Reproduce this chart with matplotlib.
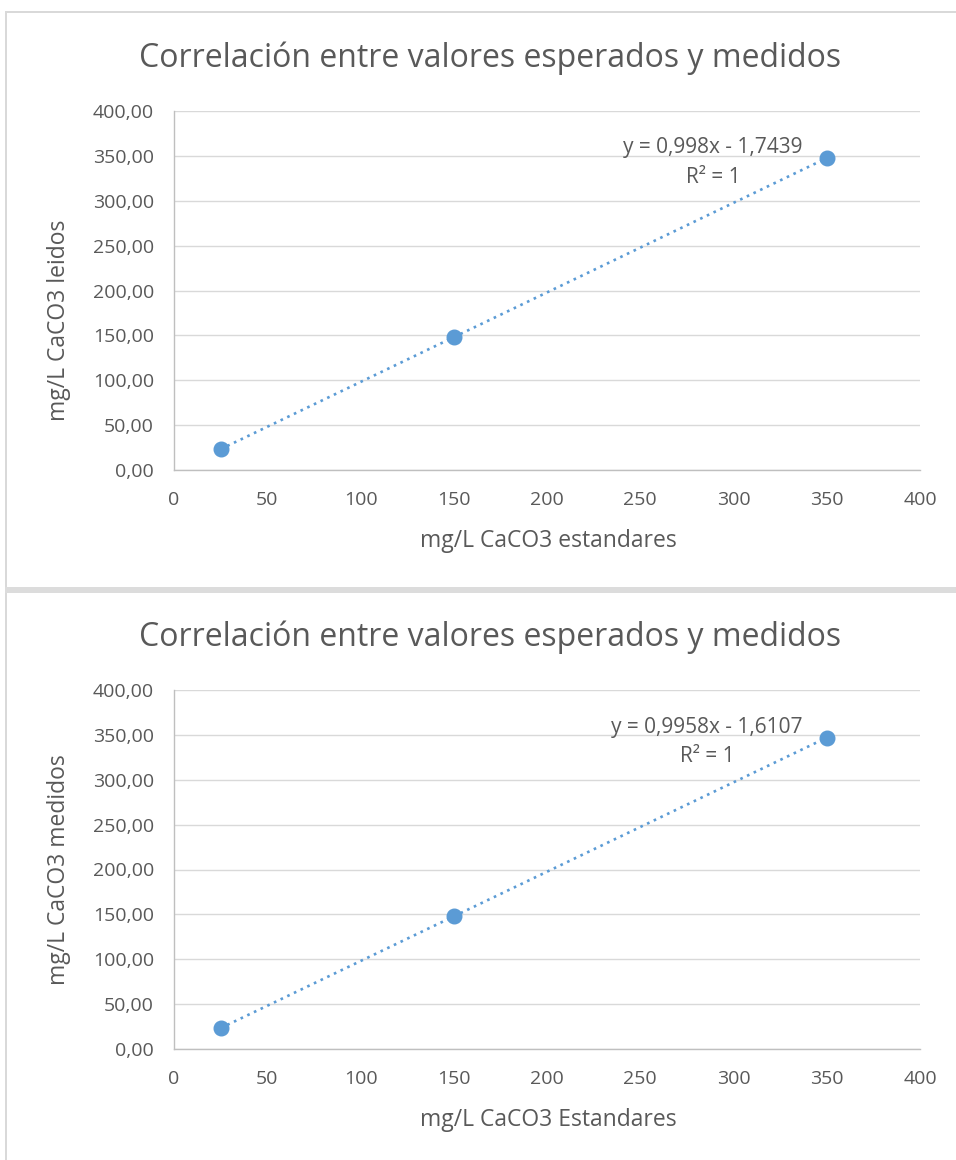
import numpy as np
import matplotlib.pyplot as plt
from matplotlib.patches import Rectangle
from matplotlib.ticker import FuncFormatter, MultipleLocator

plt.rcParams['font.family'] = ['Open Sans', 'DejaVu Sans']

# standard concentrations (mg/L CaCO3)
estandares = [25, 150, 350]
# values read by the instrument, two runs
leidos = [23.2, 148.0, 347.5]
medidos = [23.3, 147.8, 346.9]

# trendline coefficients (slope, intercept) as reported
coef_leidos = (0.998, -1.7439)
coef_medidos = (0.9958, -1.6107)

titulo = "Correlación entre valores esperados y medidos"
charts = [
    dict(y=leidos, coef=coef_leidos, eq="y = 0,998x - 1,7439",
         xlabel="mg/L CaCO3 estandares", ylabel="mg/L CaCO3 leidos"),
    dict(y=medidos, coef=coef_medidos, eq="y = 0,9958x - 1,6107",
         xlabel="mg/L CaCO3 Estandares", ylabel="mg/L CaCO3 medidos"),
]

W, H = 956, 1160
BLUE = "#5b9bd5"
TEXT = "#595959"
GRID = "#d9d9d9"

fig = plt.figure(figsize=(W / 100, H / 100), dpi=100)


def px(x, y, w, h):
    # pixel box (top-left origin) -> figure fraction
    return [x / W, 1 - (y + h) / H, w / W, h / H]


# chart frames
fig.patches.append(Rectangle((5 / W, 0), 1.5 / W, 1 - 11 / H, transform=fig.transFigure,
                             color=GRID, lw=0))
fig.patches.append(Rectangle((5 / W, 1 - 12.5 / H), 1, 1.5 / H, transform=fig.transFigure,
                             color=GRID, lw=0))
fig.patches.append(Rectangle((5 / W, 1 - 593 / H), 1, 6 / H, transform=fig.transFigure,
                             color="#dcdcdc", lw=0))

tops = [111, 690]
offsets = [0, 579]
eq_pos = [(713, 148, 177), (707, 728, 757)]
ylabel_y = [320, 870]

for i, c in enumerate(charts):
    ax = fig.add_axes(px(174, tops[i], 746, 359))
    ax.set_xlim(0, 400)
    ax.set_ylim(0, 400)
    ax.xaxis.set_major_locator(MultipleLocator(50))
    ax.yaxis.set_major_locator(MultipleLocator(50))
    ax.yaxis.set_major_formatter(FuncFormatter(lambda v, p: f"{v:.2f}".replace(".", ",")))
    ax.grid(axis="y", color=GRID, lw=1)
    ax.set_axisbelow(True)
    for s in ["top", "right"]:
        ax.spines[s].set_visible(False)
    for s in ["left", "bottom"]:
        ax.spines[s].set_color("#bfbfbf")
        ax.spines[s].set_linewidth(1)
    ax.tick_params(length=0, labelsize=14, colors=TEXT)
    ax.tick_params(axis="y", pad=14.5)
    ax.tick_params(axis="x", pad=15)

    # linear trendline from the reported coefficients
    m, b = c["coef"]
    xs = np.array([estandares[0], estandares[-1]])
    ax.plot(xs, m * xs + b, color=BLUE, lw=1.9, ls=(0, (1, 1.8)), zorder=2)
    ax.plot(estandares, c["y"], "o", color=BLUE, ms=10.5, zorder=3, clip_on=False)

    ex, ey1, ey2 = eq_pos[i]
    fig.text(ex / W, 1 - ey1 / H, c["eq"], ha="center", va="center", fontsize=15, color=TEXT)
    fig.text(ex / W, 1 - ey2 / H, "R² = 1", ha="center", va="center", fontsize=15, color=TEXT)

    o = offsets[i]
    fig.text(490 / W, 1 - (58 + o) / H, titulo, ha="center", va="center", fontsize=23, color=TEXT)
    fig.text(548 / W, 1 - (541 + o) / H, c["xlabel"], ha="center", va="center", fontsize=16.5,
             color=TEXT)
    fig.text(59 / W, 1 - ylabel_y[i] / H, c["ylabel"], ha="center", va="center", fontsize=16.5,
             color=TEXT, rotation=90)

fig.savefig("out.png", dpi=100, facecolor="white")
